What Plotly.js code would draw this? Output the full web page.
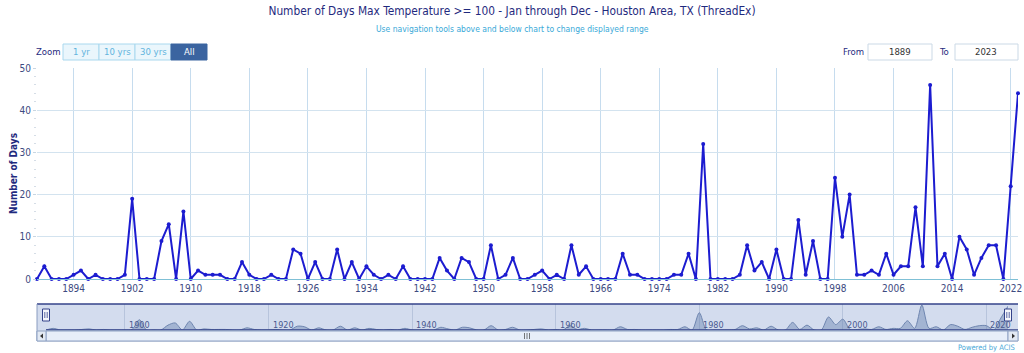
<!DOCTYPE html>
<html>
<head>
<meta charset="utf-8">
<script src="https://cdn.plot.ly/plotly-3.0.1.min.js"></script>
<style>html,body{margin:0;padding:0;background:#fff;}#chart{width:1024px;height:353px;}</style>
</head>
<body>
<div id="chart"></div>
<script>
// ---- data ----
const startYear = 1889;
const daysOver100 = [
  0,3,0,0,0,1,2,0,1,0,0,0,1,19,0,0,0,9,13,0,16,0,2,1,1,1,0,0,4,1,
  0,0,1,0,0,7,6,0,4,0,0,7,0,4,0,3,1,0,1,0,3,0,0,0,0,5,2,0,5,4,
  0,0,8,0,1,5,0,0,1,2,0,1,0,8,1,3,0,0,0,0,6,1,1,0,0,0,0,1,1,6,
  0,32,0,0,0,0,1,8,2,4,0,7,0,0,14,1,9,0,0,24,10,20,1,1,2,1,6,1,3,3,
  17,3,46,3,6,0,10,7,1,5,8,8,0,22,44
];
const years = daysOver100.map((_, i) => startYear + i);
const mainTickYears = [1894,1902,1910,1918,1926,1934,1942,1950,1958,1966,1974,1982,1990,1998,2006,2014,2022];
const navTickYears = [1900,1920,1940,1960,1980,2000,2020];
const yTicks = [0,10,20,30,40,50];
const zoomButtons = ["1 yr","10 yrs","30 yrs","All"];

// ---- helpers (pixel -> paper) ----
const W = 1024, H = 353;
const px = x => x / W;
const py = y => 1 - y / H;
const FONT = "Liberation Sans Narrow, DejaVu Sans Condensed, Arial Narrow, sans-serif";
const NAVY = "#1f2a7e";

const traces = [
  {
    x: years, y: daysOver100, type: "scatter", mode: "lines+markers",
    line: {color: "#1c1cd0", width: 2}, marker: {color: "#1c1cd0", size: 4},
    cliponaxis: false, xaxis: "x", yaxis: "y", hoverinfo: "x+y", showlegend: false
  },
  {
    x: years, y: daysOver100, type: "scatter", mode: "lines",
    line: {color: "#6f86b0", width: 1, shape: "spline", smoothing: 0.8},
    fill: "tozeroy", fillcolor: "rgba(105,130,175,0.45)",
    xaxis: "x2", yaxis: "y2", hoverinfo: "skip", showlegend: false
  }
];

const shapes = [];
const annotations = [];
function rect(x0,y0,x1,y1,fill,lineColor,lw,layer){
  shapes.push({type:"rect", xref:"paper", yref:"paper", x0:px(x0), x1:px(x1), y0:py(y1), y1:py(y0),
    fillcolor:fill, line:{color:lineColor, width:lw===undefined?1:lw}, layer:layer||"above"});
}
function line(x0,y0,x1,y1,color,lw,layer){
  shapes.push({type:"line", xref:"paper", yref:"paper", x0:px(x0), x1:px(x1), y0:py(y0), y1:py(y1),
    line:{color:color, width:lw}, layer:layer||"above"});
}
function text(t,x,y,opts){
  annotations.push(Object.assign({text:t, xref:"paper", yref:"paper", x:px(x), y:py(y), showarrow:false,
    xanchor:"center", yanchor:"middle", font:{family:FONT, size:10, color:NAVY}}, opts||{}));
}

// subtitle
text("Use navigation tools above and below chart to change displayed range", 512, 29, {font:{family:FONT, size:8.5, color:"#3aa9d8"}});

// zoom buttons
text("Zoom", 48, 52, {font:{family:FONT, size:9.5, color:NAVY}});
const btnX = [63, 99, 135, 171, 207];
zoomButtons.forEach((b, i) => {
  const active = i === zoomButtons.length - 1;
  rect(btnX[i], 44, btnX[i+1], 60, active ? "#3b64a0" : "#eaf6fc", active ? "#3b64a0" : "#a9d8ee", 1, "below");
  text(b, (btnX[i] + btnX[i+1]) / 2, 52, {font:{family:FONT, size:9.5, color: active ? "#ffffff" : "#62b4dc"}});
});

// from / to
text("From", 853, 52, {font:{family:FONT, size:9.5, color:NAVY}});
rect(868, 44, 932, 60, "#ffffff", "#cbd9e6", 1, "below");
text(String(years[0]), 900, 52, {font:{family:FONT, size:9.5, color:"#333"}});
text("To", 944, 52, {font:{family:FONT, size:9.5, color:NAVY}});
rect(955, 44, 1018, 60, "#ffffff", "#cbd9e6", 1, "below");
text(String(years[years.length-1]), 986, 52, {font:{family:FONT, size:9.5, color:"#333"}});

// navigator background / outline
rect(37, 304, 1018, 330, "#d3dcee", "rgba(0,0,0,0)", 0, "below");
line(37, 304, 1018, 304, "#34438a", 1.5);
line(37, 304, 37, 341, "#8a9cc0", 1);
line(46, 330, 1018, 330, "#34438a", 1.5);
// navigator axis labels
navTickYears.forEach(yr => {
  annotations.push({text: String(yr), xref: "x2", yref: "paper", x: yr, y: py(325), xanchor: "left", yanchor: "middle",
    xshift: 2, showarrow: false, font: {family: FONT, size: 9, color: "#4a5a8e"}});
});
// scrollbar
rect(37, 331, 1018, 341, "#eef2f9", "#a8b8d0", 1);
rect(46, 331, 1008, 341, "#e7eef9", "#8fa2c4", 1);
rect(37, 331, 46, 341, "#e2e9f3", "#8fa2c4", 1);
rect(1008, 331, 1018, 341, "#e2e9f3", "#8fa2c4", 1);
shapes.push({type:"path", xref:"paper", yref:"paper", path:`M ${px(40)},${py(336)} L ${px(43)},${py(333.5)} L ${px(43)},${py(338.5)} Z`, fillcolor:"#333", line:{width:0}});
shapes.push({type:"path", xref:"paper", yref:"paper", path:`M ${px(1015)},${py(336)} L ${px(1012)},${py(333.5)} L ${px(1012)},${py(338.5)} Z`, fillcolor:"#333", line:{width:0}});
[524.5, 527, 529.5].forEach(gx => line(gx, 333, gx, 339, "#555", 0.8));
// handles
[[42.5,49.5],[1004.5,1011.5]].forEach(([a,b]) => {
  rect(a, 309, b, 321, "#f4f6fb", "#34438a", 1);
  line(a+2.3, 312, a+2.3, 318, "#34438a", 0.8);
  line(b-2.3, 312, b-2.3, 318, "#34438a", 0.8);
});

// powered by
text("Powered by ACIS", 1017, 347, {xanchor:"right", font:{family:FONT, size:7.5, color:"#4aa9d8"}});

const layout = {
  width: W, height: H,
  margin: {l:0, r:0, t:0, b:0},
  paper_bgcolor: "#ffffff", plot_bgcolor: "rgba(0,0,0,0)",
  font: {family: FONT, color: NAVY},
  showlegend: false,
  title: {
    text: "Number of Days Max Temperature >= 100 - Jan through Dec - Houston Area, TX (ThreadEx)",
    x: 0.5, xanchor: "center", y: py(11), yanchor: "middle", yref: "paper",
    font: {family: FONT, size: 11.8, color: NAVY}
  },
  xaxis: {
    domain: [px(37), px(1018)], range: [years[0], years[years.length-1]],
    tickmode: "array", tickvals: mainTickYears, ticktext: mainTickYears.map(String),
    showgrid: true, gridcolor: "#c6dcee", gridwidth: 1,
    showline: true, linecolor: "#7fc0d6", linewidth: 1,
    ticks: "", zeroline: false,
    tickfont: {family: FONT, size: 10, color: "#3d4a80"},
    anchor: "y", fixedrange: true
  },
  yaxis: {
    domain: [py(279), py(68)], range: [0, 50],
    tickmode: "array", tickvals: yTicks,
    showgrid: true, gridcolor: "#d3e3ef", gridwidth: 1,
    zeroline: false, showline: false,
    ticks: "outside", ticklen: 3, tickcolor: "#c8d6e2",
    minor: {dtick: 2, ticks: "outside", ticklen: 2, tickcolor: "#d5dde6", showgrid: false},
    tickfont: {family: FONT, size: 10, color: "#3d4a80"},
    title: {text: "<b>Number of Days</b>", standoff: 0, font: {family: FONT, size: 10, color: NAVY}},
    anchor: "x", fixedrange: true
  },
  xaxis2: {
    domain: [px(46), px(1008)], range: [years[0], years[years.length-1]],
    tickmode: "array", tickvals: navTickYears,
    showgrid: true, gridcolor: "#b7c4dc", gridwidth: 1,
    ticks: "", showline: false, zeroline: false, showticklabels: false,
    anchor: "y2", fixedrange: true
  },
  yaxis2: {
    domain: [py(330), py(304)], range: [0, 48],
    visible: false, showgrid: false, zeroline: false, anchor: "x2", fixedrange: true
  },
  shapes: shapes,
  annotations: annotations
};

Plotly.newPlot("chart", traces, layout, {displayModeBar: false, staticPlot: false});
</script>
</body>
</html>
